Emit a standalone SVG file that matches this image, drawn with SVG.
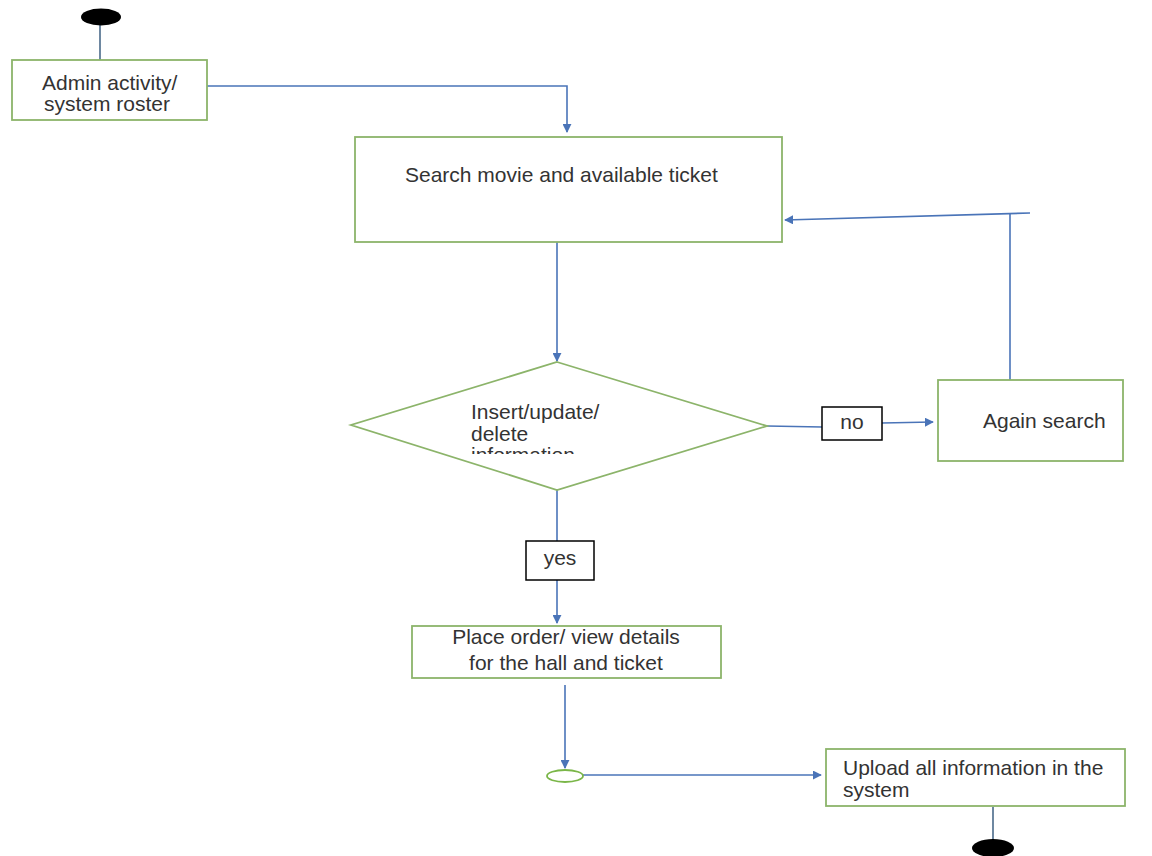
<svg xmlns="http://www.w3.org/2000/svg" width="1152" height="856" viewBox="0 0 1152 856">
<defs>
<style>
.node{fill:#fff;stroke:#8cb46a;stroke-width:1.8}
.lbl{fill:#fff;stroke:#000;stroke-width:1.5}
.edge{fill:none;stroke:#4a74b8;stroke-width:1.6}
.t{font-family:"Liberation Sans",Arial,sans-serif;font-size:21px;fill:#333}
.term{fill:#000}
</style>
<marker id="arr" viewBox="0 0 10 10" refX="9" refY="5" markerWidth="9" markerHeight="9" markerUnits="userSpaceOnUse" orient="auto">
<path d="M0,0 L10,5 L0,10 z" fill="#4a74b8"/>
</marker>
<clipPath id="dclip"><rect x="440" y="390" width="200" height="64"/></clipPath>
</defs>
<rect width="1152" height="856" fill="#fff"/>
<g id="connectors">
<line x1="100" y1="20" x2="100" y2="60" stroke="#4a6a8a" stroke-width="1.6"/>
<polyline class="edge" points="207,86 567,86 567,132" marker-end="url(#arr)"/>
<line class="edge" x1="557" y1="242" x2="557" y2="361" marker-end="url(#arr)"/>
<line class="edge" x1="767" y1="426" x2="822" y2="427"/>
<line class="edge" x1="882" y1="423" x2="933" y2="422" marker-end="url(#arr)"/>
<line class="edge" x1="1010" y1="380" x2="1010" y2="214"/>
<line class="edge" x1="1030" y1="213" x2="785" y2="220" marker-end="url(#arr)"/>
<line class="edge" x1="557" y1="490" x2="557" y2="541"/>
<line class="edge" x1="557" y1="580" x2="557" y2="623" marker-end="url(#arr)"/>
<line class="edge" x1="565" y1="685" x2="565" y2="768" marker-end="url(#arr)"/>
<line class="edge" x1="583" y1="775" x2="821" y2="775" marker-end="url(#arr)"/>
<line x1="993" y1="807" x2="993" y2="840" stroke="#4a6a8a" stroke-width="1.6"/>
</g>
<g id="start"><ellipse class="term" cx="101" cy="17" rx="20" ry="8.5"/></g>
<g id="admin">
<rect class="node" x="12" y="60" width="195" height="60"/>
<text class="t" x="42" y="90">Admin activity/</text>
<text class="t" x="44" y="111">system roster</text>
</g>
<g id="search">
<rect class="node" x="355" y="137" width="427" height="105"/>
<text class="t" x="405" y="182">Search movie and available ticket</text>
</g>
<g id="decision">
<polygon class="node" points="557,362 767,426 557,490 351,425"/>
<g clip-path="url(#dclip)">
<text class="t" x="471" y="419">Insert/update/</text>
<text class="t" x="471" y="441">delete</text>
<text class="t" x="471" y="462">information</text>
</g>
</g>
<g id="no">
<rect class="lbl" x="822" y="407" width="60" height="33"/>
<text class="t" x="852" y="429" text-anchor="middle">no</text>
</g>
<g id="again">
<rect class="node" x="938" y="380" width="185" height="81"/>
<text class="t" x="983" y="428">Again search</text>
</g>
<g id="yes">
<rect class="lbl" x="526" y="541" width="68" height="39"/>
<text class="t" x="560" y="565" text-anchor="middle">yes</text>
</g>
<g id="place">
<rect class="node" x="412" y="626" width="309" height="52"/>
<text class="t" x="566" y="644" text-anchor="middle">Place order/ view details</text>
<text class="t" x="566" y="670" text-anchor="middle">for the hall and ticket</text>
</g>
<g id="merge"><ellipse cx="565" cy="776" rx="18" ry="6" fill="#fff" stroke="#7ab648" stroke-width="1.8"/></g>
<g id="upload">
<rect class="node" x="826" y="749" width="299" height="57"/>
<text class="t" x="843" y="775">Upload all information in the</text>
<text class="t" x="843" y="797">system</text>
</g>
<g id="end"><ellipse class="term" cx="993" cy="848" rx="21" ry="9"/></g>
</svg>
